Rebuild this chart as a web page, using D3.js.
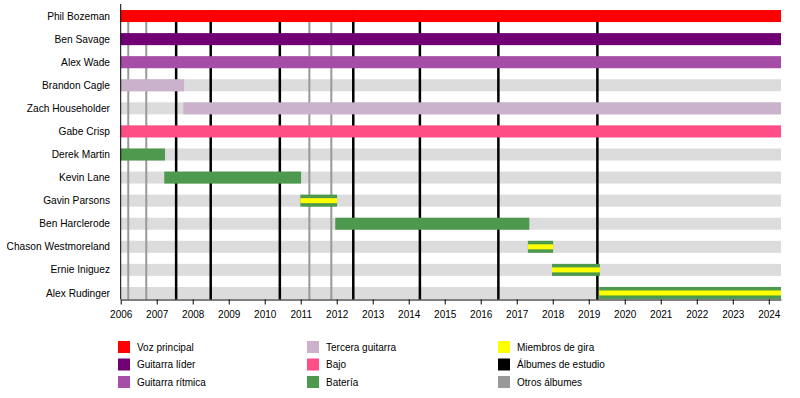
<!DOCTYPE html>
<html>
<head>
<meta charset="utf-8">
<script src="https://cdn.jsdelivr.net/npm/d3@7"></script>
<style>
  body { margin: 0; background: #fff; }
  text { font-family: "Liberation Sans", Arial, sans-serif; }
</style>
</head>
<body>
<script>
// Band members in display order
const members = ['Phil Bozeman', 'Ben Savage', 'Alex Wade', 'Brandon Cagle', 'Zach Householder',
  'Gabe Crisp', 'Derek Martin', 'Kevin Lane', 'Gavin Parsons', 'Ben Harclerode',
  'Chason Westmoreland', 'Ernie Iniguez', 'Alex Rudinger'];

// Membership periods (fractional years) and role
const periods = [
  { name: 'Phil Bozeman', start: 2006, end: 2024.34, role: 'voz' },
  { name: 'Ben Savage', start: 2006, end: 2024.34, role: 'lider' },
  { name: 'Alex Wade', start: 2006, end: 2024.34, role: 'ritmica' },
  { name: 'Brandon Cagle', start: 2006, end: 2007.76, role: 'tercera' },
  { name: 'Zach Householder', start: 2007.74, end: 2024.34, role: 'tercera' },
  { name: 'Gabe Crisp', start: 2006, end: 2024.34, role: 'bajo' },
  { name: 'Derek Martin', start: 2006, end: 2007.23, role: 'bateria' },
  { name: 'Kevin Lane', start: 2007.21, end: 2011.01, role: 'bateria' },
  { name: 'Gavin Parsons', start: 2010.99, end: 2012.01, role: 'gira' },
  { name: 'Ben Harclerode', start: 2011.96, end: 2017.35, role: 'bateria' },
  { name: 'Chason Westmoreland', start: 2017.31, end: 2018.01, role: 'gira' },
  { name: 'Ernie Iniguez', start: 2017.98, end: 2019.31, role: 'gira' },
  { name: 'Alex Rudinger', start: 2019.29, end: 2024.34, role: 'gira' }
];

const studioAlbums = [2007.54, 2008.5, 2010.42, 2012.46, 2014.31, 2016.49, 2019.24];
const otherAlbums = [2006.21, 2006.71, 2011.24, 2011.85];
const yearTicks = d3.range(2006, 2025);

const roles = ['voz', 'lider', 'ritmica', 'tercera', 'bajo', 'bateria', 'gira', 'estudio', 'otros'];
const roleLabels = ['Voz principal', 'Guitarra líder', 'Guitarra rítmica', 'Tercera guitarra', 'Bajo',
  'Batería', 'Miembros de gira', 'Álbumes de estudio', 'Otros álbumes'];
const roleColors = ['#ff0000', '#700074', '#a64da8', '#cbb2cc', '#ff4d85', '#4d994d', '#ffff00', '#000000', '#999999'];

const color = d3.scaleOrdinal().domain(roles).range(roleColors);

const width = 800, height = 398;
const svg = d3.select('body').append('svg')
  .attr('width', width)
  .attr('height', height);

const x = d3.scaleLinear().domain([2006, 2024.34]).range([120.7, 781]);
const y = d3.scaleBand().domain(members).range([4.5, 304.5]);
const barH = 12;
const axisY = 299.5;

// grey background bars
svg.append('g').selectAll('rect')
  .data(members)
  .join('rect')
  .attr('x', x(2006))
  .attr('width', x(2024.34) - x(2006))
  .attr('y', d => y(d) + y.bandwidth() / 2 - barH / 2)
  .attr('height', barH)
  .attr('fill', '#dcdcdc');

// album lines
svg.append('g').selectAll('line')
  .data(otherAlbums)
  .join('line')
  .attr('x1', d => x(d)).attr('x2', d => x(d))
  .attr('y1', 10).attr('y2', axisY)
  .attr('stroke', color('otros'))
  .attr('stroke-width', 2);

svg.append('g').selectAll('line')
  .data(studioAlbums)
  .join('line')
  .attr('x1', d => x(d)).attr('x2', d => x(d))
  .attr('y1', 10).attr('y2', axisY)
  .attr('stroke', color('estudio'))
  .attr('stroke-width', 2.5);

// member bars
const bars = svg.append('g');
bars.selectAll('rect.bar')
  .data(periods)
  .join('rect')
  .attr('class', 'bar')
  .attr('x', d => x(d.start))
  .attr('width', d => x(d.end) - x(d.start))
  .attr('y', d => y(d.name) + y.bandwidth() / 2 - barH / 2)
  .attr('height', barH)
  .attr('fill', d => d.role === 'gira' ? color('bateria') : color(d.role));

bars.selectAll('rect.tour')
  .data(periods.filter(d => d.role === 'gira'))
  .join('rect')
  .attr('class', 'tour')
  .attr('x', d => x(d.start))
  .attr('width', d => x(d.end) - x(d.start))
  .attr('y', d => y(d.name) + y.bandwidth() / 2 - 2.5)
  .attr('height', 5)
  .attr('fill', color('gira'));

// left frame line
svg.append('line')
  .attr('x1', x(2006)).attr('x2', x(2006))
  .attr('y1', 4).attr('y2', axisY)
  .attr('stroke', '#000').attr('stroke-width', 1);

// bottom axis
const xAxis = svg.append('g')
  .attr('transform', `translate(0,${axisY})`)
  .call(d3.axisBottom(x).tickValues(yearTicks).tickFormat(d3.format('d'))
    .tickSize(5).tickSizeOuter(0).tickPadding(6));
xAxis.select('.domain').attr('stroke', '#000');
xAxis.selectAll('text').attr('font-size', 10).attr('fill', '#000')
  .attr('font-family', '"Liberation Sans", Arial, sans-serif');

// member names
svg.append('g').selectAll('text')
  .data(members)
  .join('text')
  .attr('x', 110)
  .attr('y', d => y(d) + y.bandwidth() / 2)
  .attr('dy', '0.35em')
  .attr('text-anchor', 'end')
  .attr('font-size', 10.2)
  .text(d => d);

// legend
const legendCols = [118, 307, 498];
const legendRows = [347, 364.5, 382];
const legend = svg.append('g').selectAll('g')
  .data(roles)
  .join('g')
  .attr('transform', (d, i) => `translate(${legendCols[Math.floor(i / 3)]},${legendRows[i % 3]})`);

legend.append('rect')
  .attr('x', 0).attr('y', -6)
  .attr('width', 12).attr('height', 12)
  .attr('fill', d => color(d));

legend.append('text')
  .attr('x', 19)
  .attr('dy', '0.35em')
  .attr('font-size', 10)
  .text((d, i) => roleLabels[i]);
</script>
</body>
</html>
